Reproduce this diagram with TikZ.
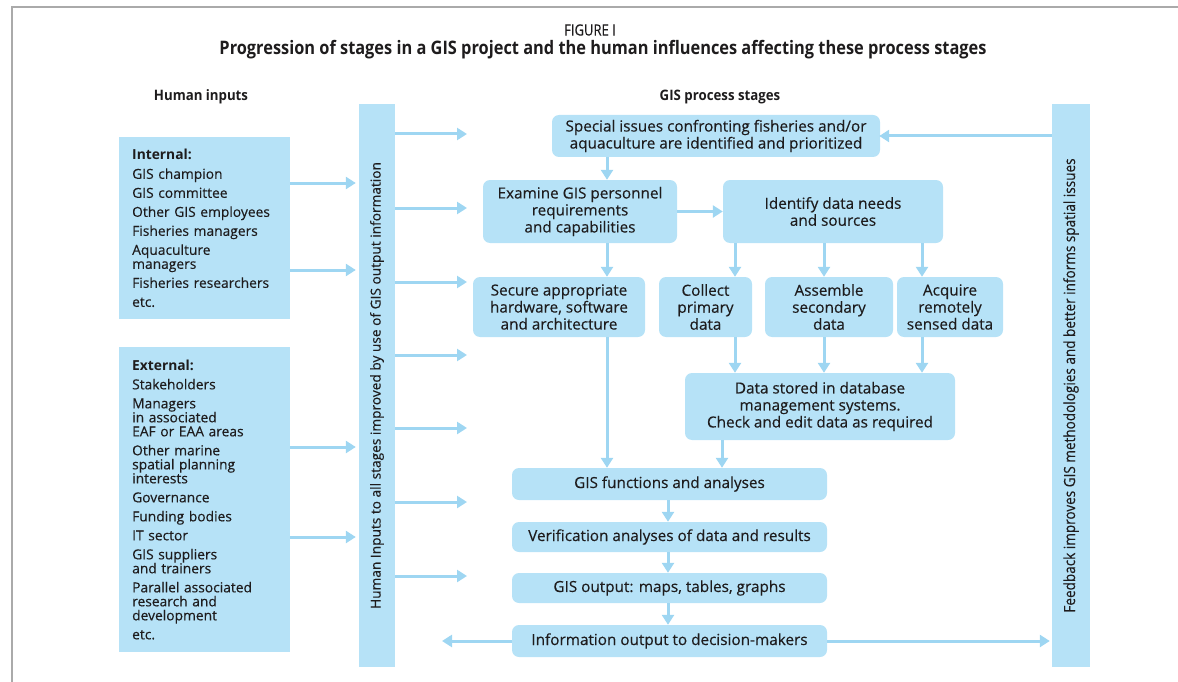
\documentclass[tikz,border=0pt]{standalone}
\usepackage{fontspec}
\setmainfont{Open Sans}[UprightFeatures={FakeBold=0.3}]
\newfontfamily\condfont{Open Sans}[FakeStretch=0.84,UprightFeatures={FakeBold=0.2}]
\newfontfamily\rcondfont{Open Sans}[FakeStretch=0.88,UprightFeatures={FakeBold=0.2}]
\newfontfamily\hcondfont{Open Sans Bold}[FakeStretch=0.88]
\newfontfamily\headfont{Open Sans Bold}[FakeStretch=0.92]
\usetikzlibrary{arrows.meta}
\definecolor{boxblue}{RGB}{182,226,247}
\definecolor{arrblue}{RGB}{158,214,242}
\definecolor{txt}{RGB}{30,28,29}
\definecolor{frame}{RGB}{170,170,170}
\tikzset{
  pbox/.style={fill=boxblue, rounded corners=7pt, align=center, text=txt,
    font=\fontsize{15.3}{17}\selectfont, inner sep=0pt},
  lbox/.style={fill=boxblue, align=left, text=txt, anchor=north west,
    font=\fontsize{13.8}{14}\selectfont, inner xsep=13pt, inner ysep=0pt,
    text width=145pt, minimum width=166pt},
  bar/.style={fill=boxblue, inner sep=0pt},
  arr/.style={draw=arrblue, line width=3pt, -{Triangle[length=10pt,width=12pt]}},
  heading/.style={text=txt, font=\headfont\fontsize{14.4}{16}\selectfont},
}
\begin{document}
\begin{tikzpicture}[x=1pt,y=-1pt]
\useasboundingbox (0,0) rectangle (1178,682);
\draw[frame, line width=2pt] (12,682) -- (12,7) -- (1178,7);

% titles
\node[text=txt, font=\condfont\fontsize{15.5}{17}\selectfont] (fig) at (590,30) {FIGURE I};
\node[text=txt, font=\hcondfont\fontsize{18.6}{20}\selectfont] (title) at (603,49.5)
  {Progression of stages in a GIS project and the human influences affecting these process stages};
\node[heading] (hin) at (201,97) {Human inputs};
\node[heading] (gps) at (720,97) {GIS process stages};

% left boxes
\node[lbox, minimum height=182pt] (int) at (119,137) {%
  \textbf{Internal:}\\[5pt]
  GIS champion\\[5pt]
  GIS committee\\[5pt]
  Other GIS employees\\[5pt]
  Fisheries managers\\[5pt]
  Aquaculture\\ managers\\[5pt]
  Fisheries researchers\\[5pt]
  etc.};
\node[lbox, minimum height=305pt] (ext) at (119,347) {%
  \textbf{External:}\\[5pt]
  Stakeholders\\[5pt]
  Managers\\ in associated\\ EAF or EAA areas\\[5pt]
  Other marine\\ spatial planning\\ interests\\[5pt]
  Governance\\[5pt]
  Funding bodies\\[5pt]
  IT sector\\[5pt]
  GIS suppliers\\ and trainers\\[5pt]
  Parallel associated\\ research and\\ development\\[5pt]
  etc.};

% bars
\node[bar, minimum width=36pt, minimum height=563pt] (lbar) at (377,385.5) {};
\node[rotate=90, text=txt, font=\fontsize{13.7}{15}\selectfont] (lbartxt) at (lbar.center)
  {Human Inputs to all stages improved by use of GIS output information};
\node[bar, minimum width=38pt, minimum height=563pt] (rbar) at (1071,385.5) {};
\node[rotate=90, text=txt, font=\rcondfont\fontsize{15.4}{16}\selectfont] (rbartxt) at (rbar.center)
  {Feedback improves GIS methodologies and better informs spatial issues};

% process boxes
\node[pbox, minimum width=328pt, minimum height=42pt] (spec) at (716,136)
  {Special issues confronting fisheries and/or\\ aquaculture are identified and prioritized};
\node[pbox, minimum width=194pt, minimum height=63pt] (exam) at (580,211.5)
  {Examine GIS personnel\\ requirements\\ and capabilities};
\node[pbox, minimum width=220pt, minimum height=63pt] (ident) at (833,211.5)
  {Identify data needs\\ and sources};
\node[pbox, minimum width=172pt, minimum height=60pt] (secure) at (559,307)
  {Secure appropriate\\ hardware, software\\ and architecture};
\node[pbox, minimum width=93pt, minimum height=60pt] (collect) at (705.5,307)
  {Collect\\ primary\\ data};
\node[pbox, minimum width=128pt, minimum height=60pt] (assemble) at (829,307)
  {Assemble\\ secondary\\ data};
\node[pbox, minimum width=106pt, minimum height=60pt] (acquire) at (950,307)
  {Acquire\\ remotely\\ sensed data};
\node[pbox, minimum width=270pt, minimum height=67pt] (stored) at (820,406.5)
  {Data stored in database\\ management systems.\\ Check and edit data as required};
\node[pbox, minimum width=315pt, minimum height=32pt] (func) at (669.5,484)
  {GIS functions and analyses};
\node[pbox, minimum width=315pt, minimum height=30pt] (verif) at (669.5,537)
  {Verification analyses of data and results};
\node[pbox, minimum width=315pt, minimum height=30pt] (out) at (669.5,588)
  {GIS output: maps, tables, graphs};
\node[pbox, minimum width=315pt, minimum height=32pt] (info) at (669.5,641)
  {Information output to decision-makers};

% x guides
\coordinate (xa) at (607,0);
\coordinate (xb) at (735,0);
\coordinate (xc) at (824,0);
\coordinate (xd) at (922,0);
\coordinate (xe) at (722,0);
\coordinate (xf) at (668,0);

% flow arrows
\draw[arr] (spec.south -| xa) -- (exam.north -| xa);
\draw[arr] (exam.east) -- (ident.west |- exam.east);
\draw[arr] (exam.south -| xa) -- (secure.north -| xa);
\draw[arr] (ident.south -| xb) -- (collect.north -| xb);
\draw[arr] (ident.south -| xc) -- (assemble.north -| xc);
\draw[arr] (ident.south -| xd) -- (acquire.north -| xd);
\draw[arr] (collect.south -| xb) -- (stored.north -| xb);
\draw[arr] (assemble.south -| xc) -- (stored.north -| xc);
\draw[arr] (acquire.south -| xd) -- (stored.north -| xd);
\draw[arr] (secure.south -| xa) -- (func.north -| xa);
\draw[arr] (stored.south -| xe) -- (func.north -| xe);
\draw[arr] (func.south -| xf) -- (verif.north -| xf);
\draw[arr] (verif.south -| xf) -- (out.north -| xf);
\draw[arr] (out.south -| xf) -- (info.north -| xf);

% inputs into left bar
\coordinate (ia) at (0,183);
\coordinate (ib) at (0,270);
\coordinate (ic) at (0,447);
\coordinate (id) at (0,537);
\draw[arr, shorten >=3pt] (int.east |- ia) -- (lbar.west |- ia);
\draw[arr, shorten >=3pt] (int.east |- ib) -- (lbar.west |- ib);
\draw[arr, shorten >=3pt] (ext.east |- ic) -- (lbar.west |- ic);
\draw[arr, shorten >=3pt] (ext.east |- id) -- (lbar.west |- id);

% left bar to stages
\foreach \i/\y in {1/134,2/208,3/282,4/355,5/428,6/502,7/576} {
  \coordinate (t\i) at (467,\y);
  \draw[arr] (lbar.east |- t\i) -- (t\i);
}

% outputs
\coordinate (tl) at (442,641);
\draw[arr] (info.west) -- (tl);
\draw[arr, shorten >=2pt] (info.east) -- (rbar.west |- info.east);
\draw[arr, shorten >=-1pt] (rbar.west |- spec.east) -- (spec.east);
\end{tikzpicture}
\end{document}
